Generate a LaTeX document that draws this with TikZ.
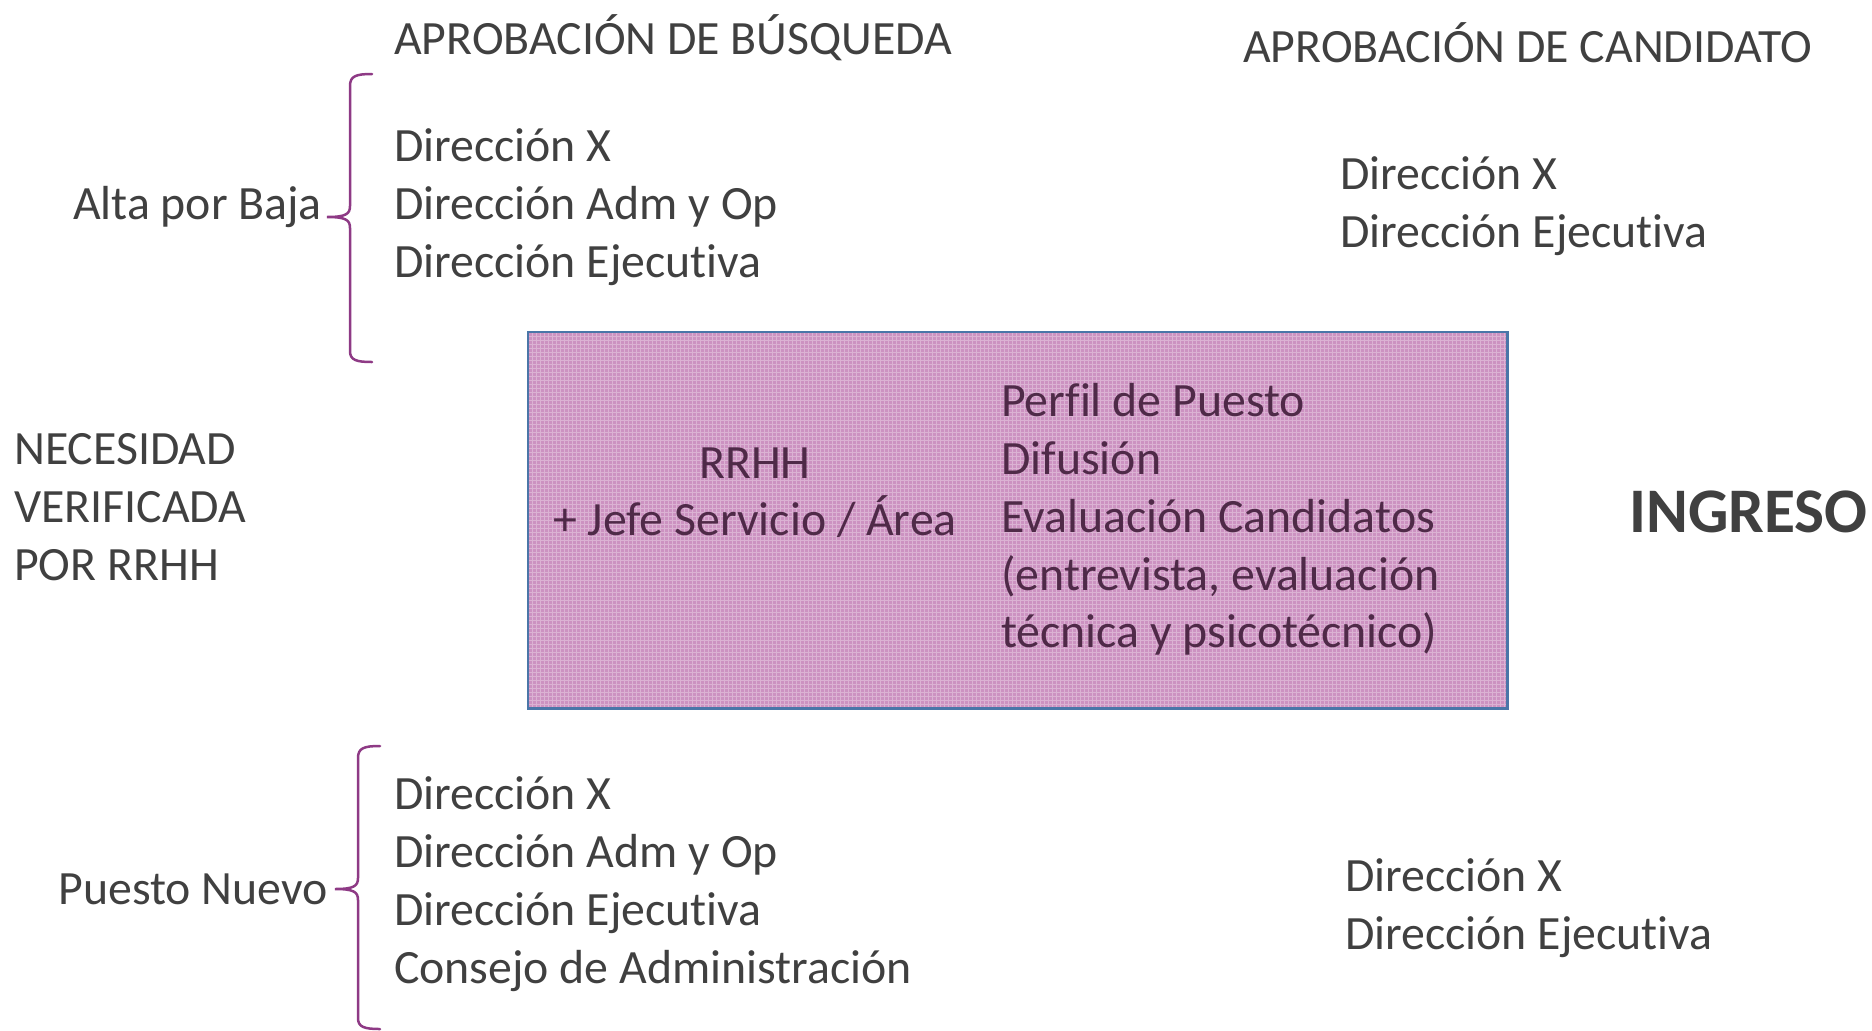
\documentclass[tikz,border=0pt]{standalone}
\usepackage{fontspec}
\setmainfont{Carlito}[Ligatures=NoCommon]
\definecolor{txt}{HTML}{404040}
\definecolor{boxtxt}{HTML}{4F2A48}
\definecolor{boxfill}{HTML}{CC92C1}
\definecolor{boxline}{HTML}{4A76A8}
\definecolor{brace}{HTML}{8E3A85}
\tikzset{
  lbl/.style={anchor=base west, inner sep=0pt, text=txt, font=\fontsize{47.8}{58}\selectfont},
  lble/.style={lbl, anchor=base east},
  blbl/.style={lbl, text=boxtxt},
  bracepath/.style={draw=brace, line width=2.5pt, line cap=round},
}
\begin{document}
\begin{tikzpicture}[x=1pt,y=-1pt]
\useasboundingbox (0,0) rectangle (1872,1031);
% headings
\node[lbl] (h1) at (394,54) {APROBACIÓN DE BÚSQUEDA};
\node[lbl] (h2) at (1243,62) {APROBACIÓN DE CANDIDATO};
% top group
\node[lble] (alta) at (322,219) {Alta por Baja};
\node[lbl] (t1) at (394,161) {Dirección X};
\node[lbl] (t2) at (394,219) {Dirección Adm y Op};
\node[lbl] (t3) at (394,277) {Dirección Ejecutiva};
\draw[bracepath] (372,74) .. controls (356,74) and (350,76) .. (350,86) -- (350,206)
  .. controls (350,214) and (346,217) .. (327,217)
  .. controls (346,217) and (350,220) .. (350,228) -- (350,351)
  .. controls (350,360) and (356,362) .. (372,362);
% top right
\node[lbl] (r1) at (1340,189) {Dirección X};
\node[lbl] (r2) at (1340,247) {Dirección Ejecutiva};
% left
\node[lbl] (n1) at (14,464) {NECESIDAD};
\node[lbl] (n2) at (14,522) {VERIFICADA};
\node[lbl] (n3) at (14,580) {POR RRHH};
% box
\node[fill=boxfill, minimum width=979pt, minimum height=376pt, anchor=north west, inner sep=0pt] (box) at (528,332) {};
\begin{scope}
  \clip (box.north west) rectangle (box.south east);
  \draw[white, opacity=0.3, line width=0.8pt, step=4pt] (box.north west) grid (box.south east);
\end{scope}
\draw[boxline, line width=2.5pt] (box.north west) rectangle (box.south east);
\node[blbl, anchor=base] (b1) at (755,478) {RRHH};
\node[blbl, anchor=base] (b2) at (755,535) {+ Jefe Servicio / Área};
\node[blbl] (p1) at (1001,416) {Perfil de Puesto};
\node[blbl] (p2) at (1001,474) {Difusión};
\node[blbl] (p3) at (1001,532) {Evaluación Candidatos};
\node[blbl] (p4) at (1001,590) {(entrevista, evaluación};
\node[blbl] (p5) at (1001,647) {técnica y psicotécnico)};
% ingreso
\node[lbl, font=\fontsize{63.5}{70}\selectfont\bfseries] (ing) at (1629,532) {INGRESO};
% bottom group
\node[lble] (nuevo) at (328,904) {Puesto Nuevo};
\node[lbl] (u1) at (394,809) {Dirección X};
\node[lbl] (u2) at (394,867) {Dirección Adm y Op};
\node[lbl] (u3) at (394,925) {Dirección Ejecutiva};
\node[lbl] (u4) at (394,983) {Consejo de Administración};
\draw[bracepath] (380,746) .. controls (364,746) and (358,748) .. (358,758) -- (358,878)
  .. controls (358,886) and (354,889) .. (335,889)
  .. controls (354,889) and (358,892) .. (358,900) -- (358,1018)
  .. controls (358,1027) and (364,1029) .. (380,1029);
% bottom right
\node[lbl] (s1) at (1345,891) {Dirección X};
\node[lbl] (s2) at (1345,949) {Dirección Ejecutiva};
\end{tikzpicture}
\end{document}
